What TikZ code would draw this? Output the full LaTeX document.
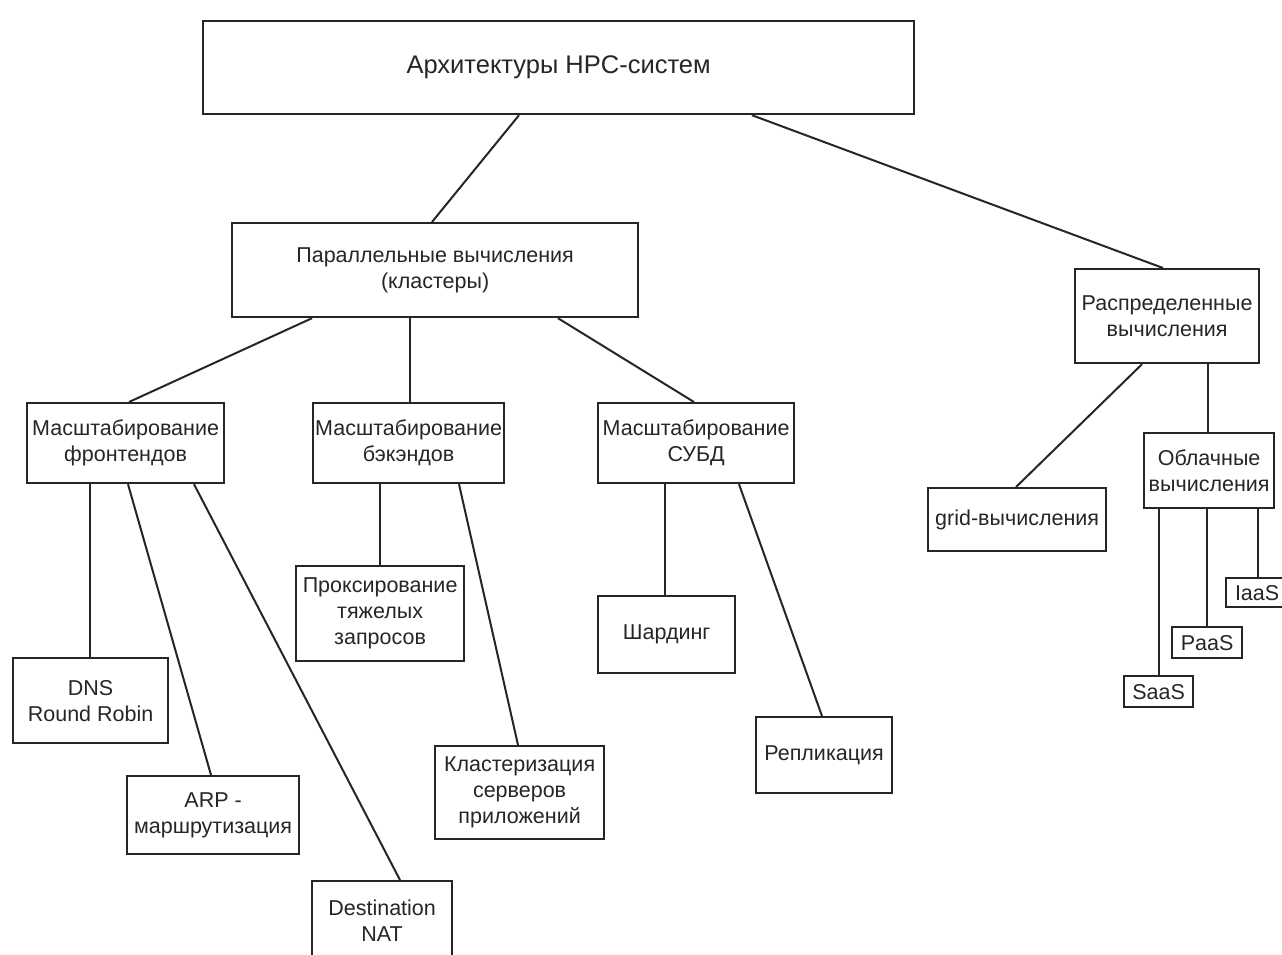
\documentclass[tikz,border=0pt]{standalone}
\usepackage{fontspec}
\setmainfont{Liberation Sans}
\tikzset{
  box/.style={draw=black!85, line width=2.2pt, rectangle, align=center, inner sep=0pt,
    anchor=north west, font=\fontsize{21.5}{26}\selectfont, text=black!85},
  conn/.style={draw=black!85, line width=2pt}
}
\begin{document}
\begin{tikzpicture}[x=1pt,y=-1pt]
\useasboundingbox (0,0) rectangle (1282,954);
\clip (0,0) rectangle (1282,954);
\fill[white] (0,0) rectangle (1282,954);
\node[box, minimum width=711pt, minimum height=93pt, font=\fontsize{25.5}{30}\selectfont] (top) at (202,20) {Архитектуры HPC-систем};
\node[box, minimum width=406pt, minimum height=94pt] (par) at (231,222) {Параллельные вычисления\\(кластеры)};
\node[box, minimum width=184pt, minimum height=94pt] (dist) at (1074,268) {Распределенные\\вычисления};
\node[box, minimum width=197pt, minimum height=80pt] (fe) at (26,402) {Масштабирование\\фронтендов};
\node[box, minimum width=191pt, minimum height=80pt] (be) at (312,402) {Масштабирование\\бэкэндов};
\node[box, minimum width=196pt, minimum height=80pt] (db) at (597,402) {Масштабирование\\СУБД};
\node[box, minimum width=155pt, minimum height=85pt] (dns) at (12,657) {DNS\\Round Robin};
\node[box, minimum width=172pt, minimum height=78pt] (arp) at (126,775) {ARP -\\маршрутизация};
\node[box, minimum width=140pt, minimum height=80pt] (nat) at (311,880) {Destination\\NAT};
\node[box, minimum width=168pt, minimum height=95pt] (prox) at (295,565) {Проксирование\\тяжелых\\запросов};
\node[box, minimum width=169pt, minimum height=93pt] (clus) at (434,745) {Кластеризация\\серверов\\приложений};
\node[box, minimum width=137pt, minimum height=77pt] (shard) at (597,595) {Шардинг};
\node[box, minimum width=136pt, minimum height=76pt] (repl) at (755,716) {Репликация};
\node[box, minimum width=178pt, minimum height=63pt] (grid) at (927,487) {grid-вычисления};
\node[box, minimum width=130pt, minimum height=75pt] (cloud) at (1143,432) {Облачные\\вычисления};
\node[box, minimum width=62pt, minimum height=29pt] (iaas) at (1225,577) {IaaS};
\node[box, minimum width=70pt, minimum height=31pt] (paas) at (1171,626) {PaaS};
\node[box, minimum width=69pt, minimum height=31pt] (saas) at (1123,675) {SaaS};
% connectors
\draw[conn] ([xshift=317pt]top.south west) -- ([xshift=201pt]par.north west);
\draw[conn] ([xshift=550pt]top.south west) -- ([xshift=89pt]dist.north west);
\draw[conn] ([xshift=81pt]par.south west) -- ([xshift=103pt]fe.north west);
\draw[conn] ([xshift=179pt]par.south west) -- ([xshift=98pt]be.north west);
\draw[conn] ([xshift=327pt]par.south west) -- ([xshift=97pt]db.north west);
\draw[conn] ([xshift=68pt]dist.south west) -- ([xshift=89pt]grid.north west);
\draw[conn] ([xshift=134pt]dist.south west) -- ([xshift=65pt]cloud.north west);
\draw[conn] ([xshift=64pt]fe.south west) -- ([xshift=78pt]dns.north west);
\draw[conn] ([xshift=102pt]fe.south west) -- ([xshift=85pt]arp.north west);
\draw[conn] ([xshift=168pt]fe.south west) -- ([xshift=89pt]nat.north west);
\draw[conn] ([xshift=68pt]be.south west) -- ([xshift=85pt]prox.north west);
\draw[conn] ([xshift=147pt]be.south west) -- ([xshift=84pt]clus.north west);
\draw[conn] ([xshift=68pt]db.south west) -- ([xshift=68pt]shard.north west);
\draw[conn] ([xshift=142pt]db.south west) -- ([xshift=67pt]repl.north west);
\draw[conn] ([xshift=16pt]cloud.south west) -- ([xshift=36pt]saas.north west);
\draw[conn] ([xshift=64pt]cloud.south west) -- ([xshift=36pt]paas.north west);
\draw[conn] ([xshift=115pt]cloud.south west) -- ([xshift=33pt]iaas.north west);
\end{tikzpicture}
\end{document}
